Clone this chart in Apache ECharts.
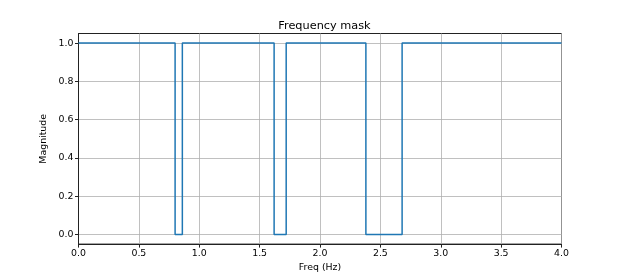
<!DOCTYPE html>
<html><head><meta charset="utf-8">
<script src="https://cdn.jsdelivr.net/npm/echarts@6/dist/echarts.min.js"></script>
<style>html,body{margin:0;padding:0;background:#fff;overflow:hidden}#c{width:100vw;height:100vh}</style>
</head><body><div id="c"></div>
<script>
const freqs = [0, 0.80, 0.80, 0.86, 0.86, 1.62, 1.62, 1.72, 1.72, 2.38, 2.38, 2.68, 2.68, 4.0];
const mags  = [1, 1, 0, 0, 1, 1, 0, 0, 1, 1, 0, 0, 1, 1];
const xTicks = [0, 0.5, 1.0, 1.5, 2.0, 2.5, 3.0, 3.5, 4.0];
const yTicks = [0, 0.2, 0.4, 0.6, 0.8, 1.0];

const chart = echarts.init(document.getElementById('c'));
const font = 'DejaVu Sans';
chart.setOption({
  animation: false,
  title: {text: 'Frequency mask', left: 319.5, top: 16, textAlign: 'center',
    textStyle: {fontFamily: font, fontSize: 11.3, fontWeight: 'normal', color: '#000'}},
  grid: {left: 78.5, right: 62.5, top: 33.5, bottom: 30, show: true, borderColor: '#222', borderWidth: 1, backgroundColor: 'transparent'},
  xAxis: {type: 'value', min: 0, max: 4, interval: 0.5,
    name: 'Freq (Hz)', nameLocation: 'middle', nameGap: 18,
    nameTextStyle: {fontFamily: font, fontSize: 9.4, color: '#000'},
    axisLine: {show: true, onZero: false, lineStyle: {color: '#222'}},
    axisTick: {show: true, length: 3.5, lineStyle: {color: '#222'}, customValues: xTicks},
    axisLabel: {fontFamily: font, fontSize: 9.4, color: '#000', margin: 5, customValues: xTicks, formatter: v => v.toFixed(1)},
    splitLine: {show: true, lineStyle: {color: '#b0b0b0', width: 0.8}}},
  yAxis: {type: 'value', min: -0.05, max: 1.05,
    name: 'Magnitude', nameLocation: 'middle', nameGap: 28,
    nameTextStyle: {fontFamily: font, fontSize: 9.4, color: '#000'},
    axisLine: {show: true, onZero: false, lineStyle: {color: '#222'}},
    axisTick: {show: true, length: 3.5, lineStyle: {color: '#222'}, customValues: yTicks},
    axisLabel: {fontFamily: font, fontSize: 9.4, color: '#000', margin: 5, customValues: yTicks, formatter: v => v.toFixed(1)},
    splitLine: {show: true, lineStyle: {color: '#b0b0b0', width: 0.8}}},
  series: [{type: 'line', data: freqs.map((f, i) => [f, mags[i]]), showSymbol: false, symbol: 'none',
    lineStyle: {color: '#1f77b4', width: 1.5}}]
});
</script></body></html>
